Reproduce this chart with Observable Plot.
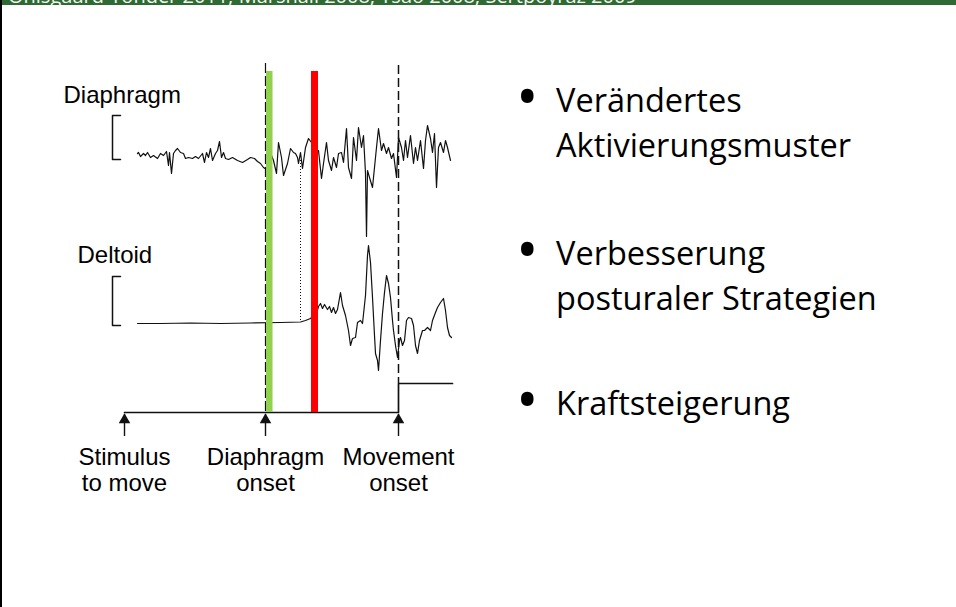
<!DOCTYPE html>
<html>
<head>
<meta charset="utf-8">
<script src="https://cdn.jsdelivr.net/npm/d3@7"></script>
<script src="https://cdn.jsdelivr.net/npm/@observablehq/plot@0.6"></script>
<style>
  html, body { margin: 0; padding: 0; background: #fff; }
  #slide { position: relative; width: 956px; height: 607px; overflow: hidden; background: #fff; }
  #chart { position: absolute; left: 0; top: 0; }
  #banner { position: absolute; left: 0; top: 0; width: 956px; height: 5px; background: #2f6a35; overflow: hidden; }
  #bannerText { position: absolute; left: 8px; top: -14px; font: 20px/20px "Open Sans", sans-serif; color: #f4f7ee; white-space: nowrap; }
  #border { position: absolute; left: 0; top: 0; width: 2px; height: 607px; background: #000; }
  .item { position: absolute; left: 0; width: 956px; }
  .bul { position: absolute; left: 516px; top: -4px; font: 60px/45px "Open Sans", sans-serif; color: #000; }
  .txt { position: absolute; left: 556px; top: 0; font: 32.5px/45px "Open Sans", sans-serif; color: #000; white-space: nowrap; }
</style>
</head>
<body>
<div id="slide">
  <div id="chart"></div>
  <div class="item" style="top:77px"><span class="bul">•</span><div class="txt">Verändertes<br>Aktivierungsmuster</div></div>
  <div class="item" style="top:230px"><span class="bul">•</span><div class="txt">Verbesserung<br>posturaler Strategien</div></div>
  <div class="item" style="top:380px"><span class="bul">•</span><div class="txt">Kraftsteigerung</div></div>
  <div id="banner"><div id="bannerText">Ohlsgaard-Tonder 2011; Marshall 2008; Tsao 2008; Sertpoyraz 2009</div></div>
  <div id="border"></div>
</div>
<script>
// ---------- data (time in ms after the stimulus, amplitude in trace units) ----------
const channelNames = ["Diaphragm", "Deltoid"];

// Diaphragm EMG
const diaphragmT = [13,14,16,19,21,23,26,29,33,36,39,42,44,45,47,49,51,53,56,59,61,64,68,71,74,78,80,82,84,86,88,91,93,95,97,99,101,104,108,113,118,123,126,130,133,136,139,142,
  145,149,152,154,157,159,163,166,169,171,173,174,176,178,181,184,187,190,194,197,199,202,204,207,209,212,214,217,219,222,224,227,229,232,234,237,239,241,242,243,245,248,250,252,254,257,259,262,264,267,269,272,274,277,279,281,283,286,289,291,293,296,299,301,303,306,308,310,312,314,316,319,321,323,326];
const diaphragmA = [5,6,2,5,3,6,1,3,0,5,3,7,-7,6,-15,5,8,10,6,5,0,1,0,2,0,5,-4,6,1,10,-2,5,8,17,1,6,0,-1,1,-2,-4,-1,1,0,-3,-5,-9,-11,
  8,-2,-15,16,1,-17,-5,10,6,5,1,-5,6,-10,11,20,16,8,8,-20,-5,16,-2,-12,1,-9,5,6,-4,30,-9,-20,21,-2,31,11,23,-15,-78,-12,-19,-29,-9,11,30,8,15,5,11,0,5,-19,21,11,-2,18,1,23,-5,11,-2,18,-10,18,33,20,6,25,-29,11,16,6,18,11,-2];

// Deltoid EMG
const deltoidT = [13,36,66,96,126,156,176,181,186,189,192,194,196,198,200,203,205,207,209,211,213,216,218,221,224,226,228,231,233,236,238,241,243,244,246,248,250,251,253,254,256,258,260,262,264,266,268,269,271,273,275,276,278,280,282,284,287,289,291,293,295,298,300,303,306,308,311,313,316,319,321,323,325,327];
const deltoidA = [-1,-1,-0.5,-1,-0.5,0,0.5,2,4,8,9,16,19,14,18,13,16,10,15,9,13,30,17,7,-8,-23,-16,-15,0,2,-1,27,67,77,60,25,-13,-31,-38,-48,-18,9,30,47,39,25,2,-8,-23,-35,-18,-15,-23,-18,2,5,4,-3,-23,-31,-18,-8,-8,-5,-8,2,10,15,20,24,12,-5,-13,-15];

// Movement trace (step at movement onset)
const movementT = [0, 274, 274, 328];
const movementA = [0, 0, 29, 29];

// Calibration brackets (amplitude extent of each bar)
const calibLow  = [-1, -3];
const calibHigh = [43, 46];

// Events on the time line
const eventLabels = ["Stimulus\nto move", "Diaphragm\nonset", "Movement\nonset"];
const eventTimes  = [0, 141, 274];
const deltoidOnsetT = 176;

// Highlight bars (start / end time)
const highlightNames = ["green", "red"];
const highlightStart = [142, 187];
const highlightEnd   = [148.5, 194];

// ---------- layout (pixel rows of the channel baselines) ----------
const W = 470, H = 607;
const ROW = {Diaphragm: 158, Deltoid: 322, Movement: 412};
const TOP_BARS = 71;
const HL_COLORS = {green: "#92d050", red: "#ff0000"};
const INK = "#111";

const dia = diaphragmT.map((t, i) => ({t, y: ROW.Diaphragm - diaphragmA[i]}));
const del = deltoidT.map((t, i) => ({t, y: ROW.Deltoid - deltoidA[i]}));
const mov = movementT.map((t, i) => ({t, y: ROW.Movement - movementA[i]}));
const brackets = channelNames.flatMap((c, i) => {
  const top = ROW[c] - calibHigh[i], bot = ROW[c] - calibLow[i];
  return [{c, t: -4, y: top}, {c, t: -12, y: top}, {c, t: -12, y: bot}, {c, t: -4, y: bot}];
});
const events = eventLabels.map((label, i) => ({label, t: eventTimes[i]}));
const highlights = highlightNames.map((n, i) => ({n, t1: highlightStart[i], t2: highlightEnd[i]}));
const chanLabels = [
  {label: "Diaphragm", t: -61, y: 102},
  {label: "Deltoid", t: -47, y: 262}
];

const chart = Plot.plot({
  width: W, height: H,
  margin: 0,
  x: {domain: [-124, W - 124], range: [0, W], axis: null},
  y: {domain: [0, H], range: [0, H], axis: null},
  style: {background: "transparent", fontFamily: "'Liberation Sans', Arial, sans-serif"},
  marks: [
    // onset reference lines
    Plot.ruleX([eventTimes[1]], {x: d => d, y1: 63, y2: ROW.Movement, stroke: INK, strokeWidth: 1.2, strokeDasharray: "10,3"}),
    Plot.ruleX([eventTimes[2]], {x: d => d, y1: 65, y2: ROW.Movement - movementA[2], stroke: INK, strokeWidth: 1.5, strokeDasharray: "9,4"}),
    Plot.ruleX([deltoidOnsetT], {x: d => d, y1: 160, y2: ROW.Deltoid, stroke: INK, strokeWidth: 1, strokeDasharray: "1,2"}),
    // traces
    Plot.line(dia, {x: "t", y: "y", stroke: INK, strokeWidth: 1.2, strokeLinejoin: "round"}),
    Plot.line(del, {x: "t", y: "y", stroke: INK, strokeWidth: 1.2, strokeLinejoin: "round"}),
    Plot.line(mov, {x: "t", y: "y", stroke: INK, strokeWidth: 1.7}),
    // calibration brackets
    Plot.line(brackets, {x: "t", y: "y", z: "c", stroke: INK, strokeWidth: 1.5}),
    // highlight bars
    Plot.rect(highlights, {x1: "t1", x2: "t2", y1: TOP_BARS, y2: ROW.Movement, fill: d => HL_COLORS[d.n]}),
    // event arrows
    Plot.ruleX(events, {x: "t", y1: ROW.Movement + 2, y2: ROW.Movement + 24, stroke: INK, strokeWidth: 1.4}),
    Plot.dot(events, {x: "t", y: ROW.Movement, dy: 7.5, symbol: "triangle", r: 4.3, fill: INK, stroke: "none"}),
    // event labels
    Plot.text(events, {x: "t", y: ROW.Movement + 34, text: "label", lineAnchor: "top", textAnchor: "middle", lineHeight: 1.08, fontSize: 24, fill: "#000"}),
    // channel labels
    Plot.text(chanLabels, {x: "t", y: "y", text: "label", lineAnchor: "bottom", textAnchor: "start", fontSize: 24, fill: "#000"})
  ]
});
document.getElementById("chart").appendChild(chart);
</script>
</body>
</html>
